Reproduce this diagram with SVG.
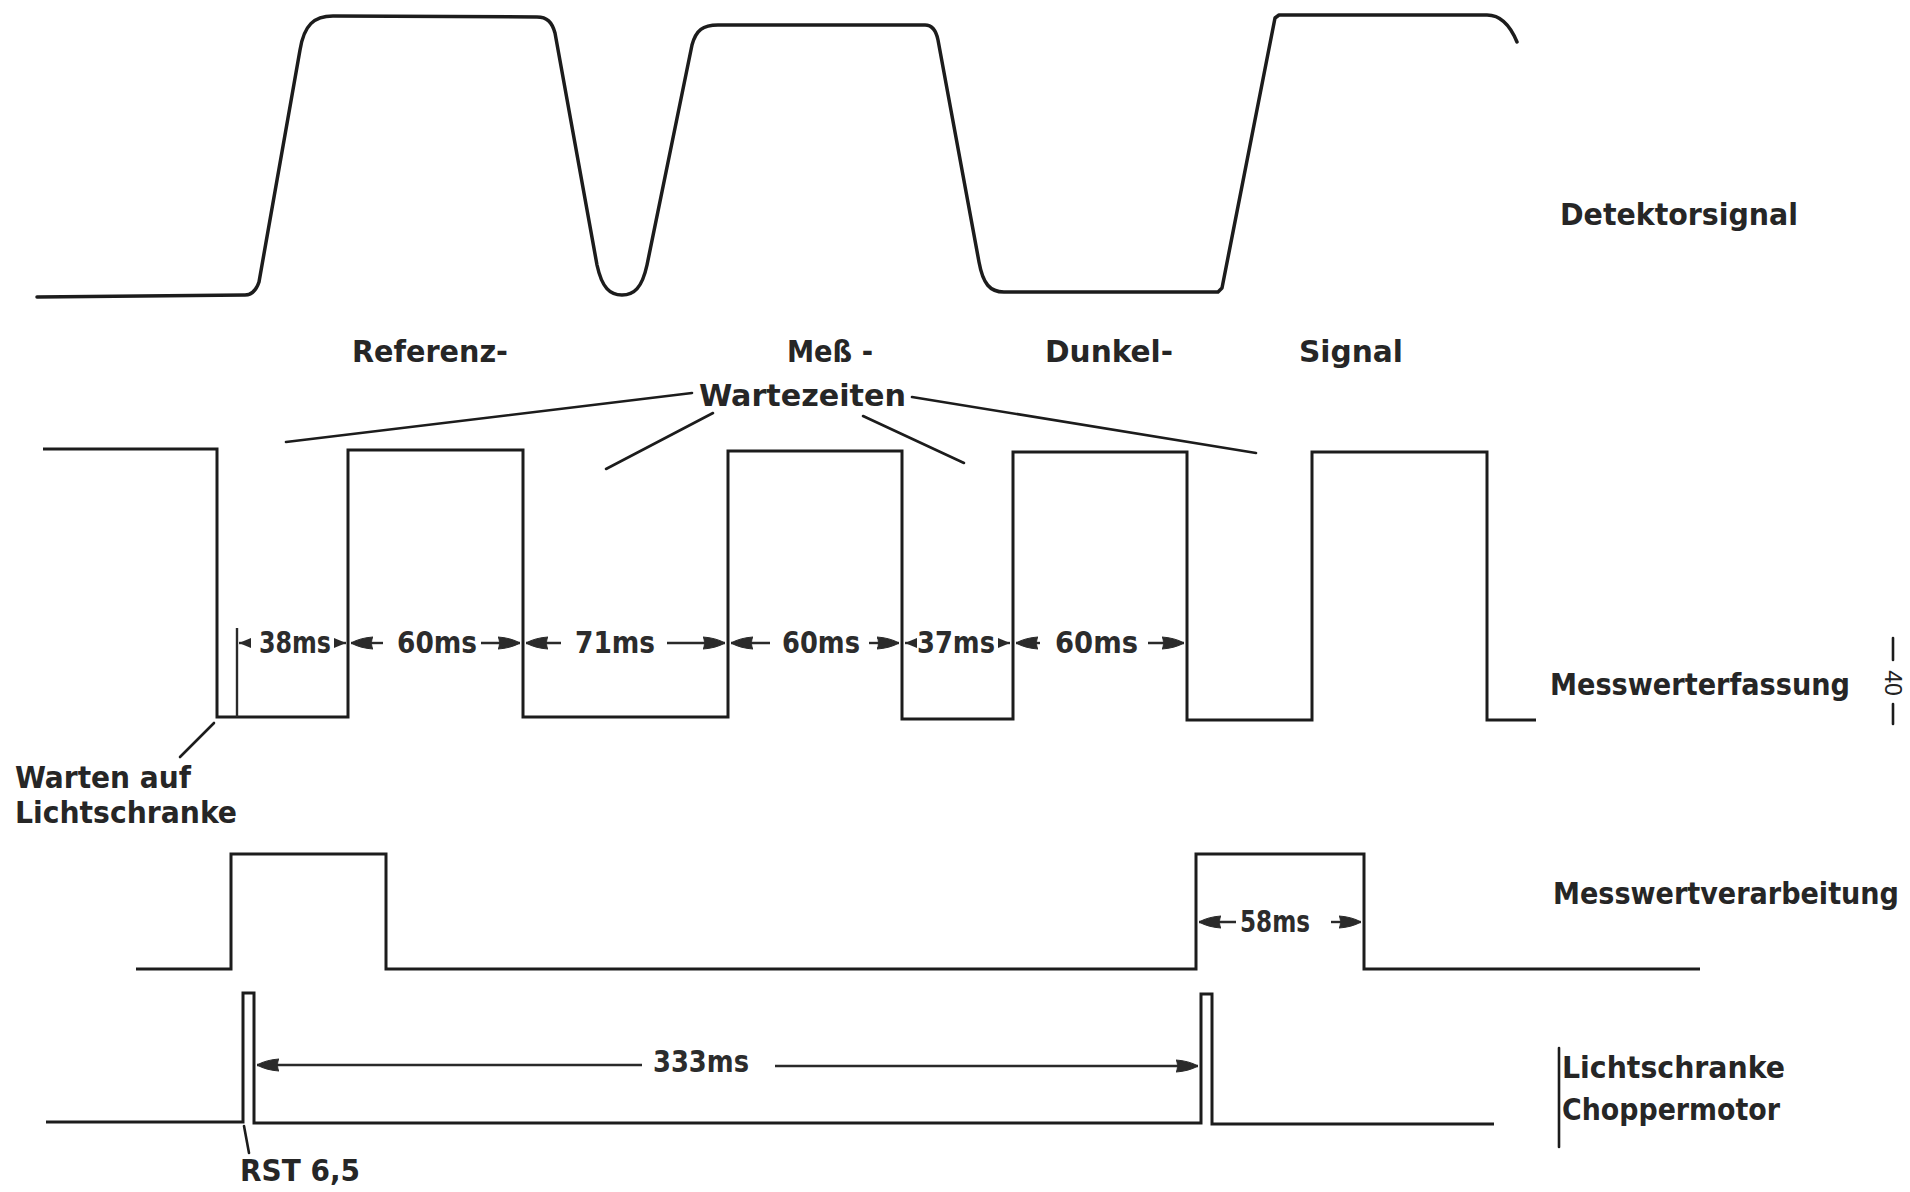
<svg xmlns="http://www.w3.org/2000/svg" width="1910" height="1192" viewBox="0 0 1910 1192">
<style>
  .wave { fill: none; stroke: #1c1c1c; stroke-width: 3; stroke-linejoin: miter; }
  .curve { fill: none; stroke: #1c1c1c; stroke-width: 3.5; stroke-linejoin: round; stroke-linecap: round; }
  .lead { fill: none; stroke: #1c1c1c; stroke-width: 2.6; stroke-linecap: round; }
  .dim { fill: none; stroke: #2a2a2a; stroke-width: 2.4; }
  .lbl { font-family: "DejaVu Sans Condensed", "DejaVu Sans", "Liberation Sans", sans-serif; font-stretch: condensed; font-weight: bold; font-size: 30px; fill: #262626; }
  .dimt { font-family: "DejaVu Sans Condensed", "DejaVu Sans", "Liberation Sans", sans-serif; font-stretch: condensed; font-weight: bold; font-size: 31px; fill: #2c2c2c; }
  .pg { font-family: "Liberation Sans", Arial, sans-serif; font-size: 23px; fill: #222; }
</style>
<defs>
  <marker id="ah" markerUnits="userSpaceOnUse" markerWidth="24" markerHeight="16" refX="22" refY="8" orient="auto-start-reverse">
    <path d="M0,2 C8,2.5 16,4.5 22,8 C16,11.5 8,13.5 0,14 C2,11 2,5 0,2 Z" fill="#2a2a2a" stroke="#2a2a2a" stroke-width="1"/>
  </marker>
  <marker id="ahs" markerUnits="userSpaceOnUse" markerWidth="13" markerHeight="11" refX="12" refY="5.5" orient="auto-start-reverse">
    <path d="M0,0.5 L12,5.5 L0,10.5 Z" fill="#2a2a2a"/>
  </marker>
</defs>
<rect width="1910" height="1192" fill="#ffffff"/>

<g id="detektorsignal">
  <path class="curve" d="M37,297 L245,295 C252,295 256,291 259,282 L300,50 C304,25 314,16 333,16 L537,17 C547,17 552,22 555,33 L597,265 C602,288 610,295 622,295 C634,295 642,288 647,265 L692,45 C696,30 703,25 718,25 L925,25 C932,25 936,30 938,40 L979,262 C983,284 990,292 1004,292 L1218,292 L1222,288 L1275,18 L1279,15 L1487,15 C1500,15 1510,25 1517,42"/>
  <text class="lbl" x="1560" y="225" textLength="238" lengthAdjust="spacingAndGlyphs">Detektorsignal</text>
</g>

<g id="signal-labels">
  <text class="lbl" x="352" y="362" textLength="156" lengthAdjust="spacingAndGlyphs">Referenz-</text>
  <text class="lbl" x="787" y="362" textLength="86" lengthAdjust="spacingAndGlyphs">Meß -</text>
  <text class="lbl" x="1045" y="362" textLength="128" lengthAdjust="spacingAndGlyphs">Dunkel-</text>
  <text class="lbl" x="1299" y="362" textLength="104" lengthAdjust="spacingAndGlyphs">Signal</text>
  <text class="lbl" x="699" y="406" font-size="28" textLength="207" lengthAdjust="spacingAndGlyphs">Wartezeiten</text>
</g>

<g id="messwerterfassung">
  <path class="wave" d="M43,449 H217 V717 H348 V450 H523 V717 H728 V451 H902 V719 H1013 V452 H1187 V720 H1312 V452 H1487 V720 H1536"/>
  <text class="lbl" x="1550" y="695" textLength="300" lengthAdjust="spacingAndGlyphs">Messwerterfassung</text>
  <text class="dimt" x="259" y="653" textLength="72" lengthAdjust="spacingAndGlyphs">38ms</text>
  <text class="dimt" x="397" y="653" textLength="80" lengthAdjust="spacingAndGlyphs">60ms</text>
  <text class="dimt" x="575" y="653" textLength="80" lengthAdjust="spacingAndGlyphs">71ms</text>
  <text class="dimt" x="782" y="653" textLength="78" lengthAdjust="spacingAndGlyphs">60ms</text>
  <text class="dimt" x="917" y="653" textLength="78" lengthAdjust="spacingAndGlyphs">37ms</text>
  <text class="dimt" x="1055" y="653" textLength="83" lengthAdjust="spacingAndGlyphs">60ms</text>
</g>

<g id="warten-auf-lichtschranke">
  <text class="lbl" x="15" y="788" textLength="176" lengthAdjust="spacingAndGlyphs">Warten auf</text>
  <text class="lbl" x="15" y="823" textLength="222" lengthAdjust="spacingAndGlyphs">Lichtschranke</text>
</g>

<g id="messwertverarbeitung">
  <path class="wave" d="M136,969 H231 V854 H386 V969 H1196 V854 H1364 V969 H1700"/>
  <text class="lbl" x="1553" y="904" textLength="346" lengthAdjust="spacingAndGlyphs">Messwertverarbeitung</text>
  <text class="dimt" x="1240" y="932" font-size="28" textLength="70" lengthAdjust="spacingAndGlyphs">58ms</text>
</g>

<g id="lichtschranke-choppermotor">
  <path class="wave" d="M46,1122 H243 V993 H254 V1123 H1201 V994 H1212 V1124 H1494"/>
  <line class="lead" x1="1559" y1="1048" x2="1559" y2="1147"/>
  <text class="lbl" x="1562" y="1078" textLength="223" lengthAdjust="spacingAndGlyphs">Lichtschranke</text>
  <text class="lbl" x="1562" y="1120" textLength="218" lengthAdjust="spacingAndGlyphs">Choppermotor</text>
  <text class="lbl" x="240" y="1181" textLength="120" lengthAdjust="spacingAndGlyphs">RST 6,5</text>
  <text class="dimt" x="653" y="1072" textLength="96" lengthAdjust="spacingAndGlyphs">333ms</text>
</g>

<g id="page-number">
  <line class="lead" x1="1893" y1="638" x2="1893" y2="660" stroke-width="2"/>
  <text class="pg" transform="translate(1893,683) rotate(90)" text-anchor="middle" dominant-baseline="central">40</text>
  <line class="lead" x1="1893" y1="704" x2="1893" y2="724" stroke-width="2"/>
</g>

<g id="connectors">
  <line class="lead" x1="692" y1="393" x2="286" y2="442"/>
  <line class="lead" x1="713" y1="413" x2="606" y2="469"/>
  <line class="lead" x1="863" y1="416" x2="964" y2="463"/>
  <line class="lead" x1="912" y1="397" x2="1256" y2="453"/>
  <line class="lead" x1="214" y1="723" x2="180" y2="757"/>
  <line class="lead" x1="244" y1="1126" x2="249" y2="1153"/>
  <line class="dim" x1="237" y1="628" x2="237" y2="717"/>
  <line class="dim" x1="250" y1="643" x2="239" y2="643" marker-end="url(#ahs)"/>
  <line class="dim" x1="334" y1="643" x2="346" y2="643" marker-end="url(#ahs)"/>
  <line class="dim" x1="383" y1="643" x2="351" y2="643" marker-end="url(#ah)"/>
  <line class="dim" x1="481" y1="643" x2="520" y2="643" marker-end="url(#ah)"/>
  <line class="dim" x1="561" y1="643" x2="526" y2="643" marker-end="url(#ah)"/>
  <line class="dim" x1="667" y1="643" x2="725" y2="643" marker-end="url(#ah)"/>
  <line class="dim" x1="770" y1="643" x2="731" y2="643" marker-end="url(#ah)"/>
  <line class="dim" x1="869" y1="643" x2="899" y2="643" marker-end="url(#ah)"/>
  <line class="dim" x1="915" y1="643" x2="905" y2="643" marker-end="url(#ahs)"/>
  <line class="dim" x1="998" y1="643" x2="1010" y2="643" marker-end="url(#ahs)"/>
  <line class="dim" x1="1040" y1="643" x2="1016" y2="643" marker-end="url(#ah)"/>
  <line class="dim" x1="1148" y1="643" x2="1184" y2="643" marker-end="url(#ah)"/>
  <line class="dim" x1="1236" y1="922" x2="1199" y2="922" marker-end="url(#ah)"/>
  <line class="dim" x1="1331" y1="922" x2="1361" y2="922" marker-end="url(#ah)"/>
  <line class="dim" x1="642" y1="1065" x2="257" y2="1065" marker-end="url(#ah)"/>
  <line class="dim" x1="775" y1="1066" x2="1198" y2="1066" marker-end="url(#ah)"/>
</g>
</svg>
